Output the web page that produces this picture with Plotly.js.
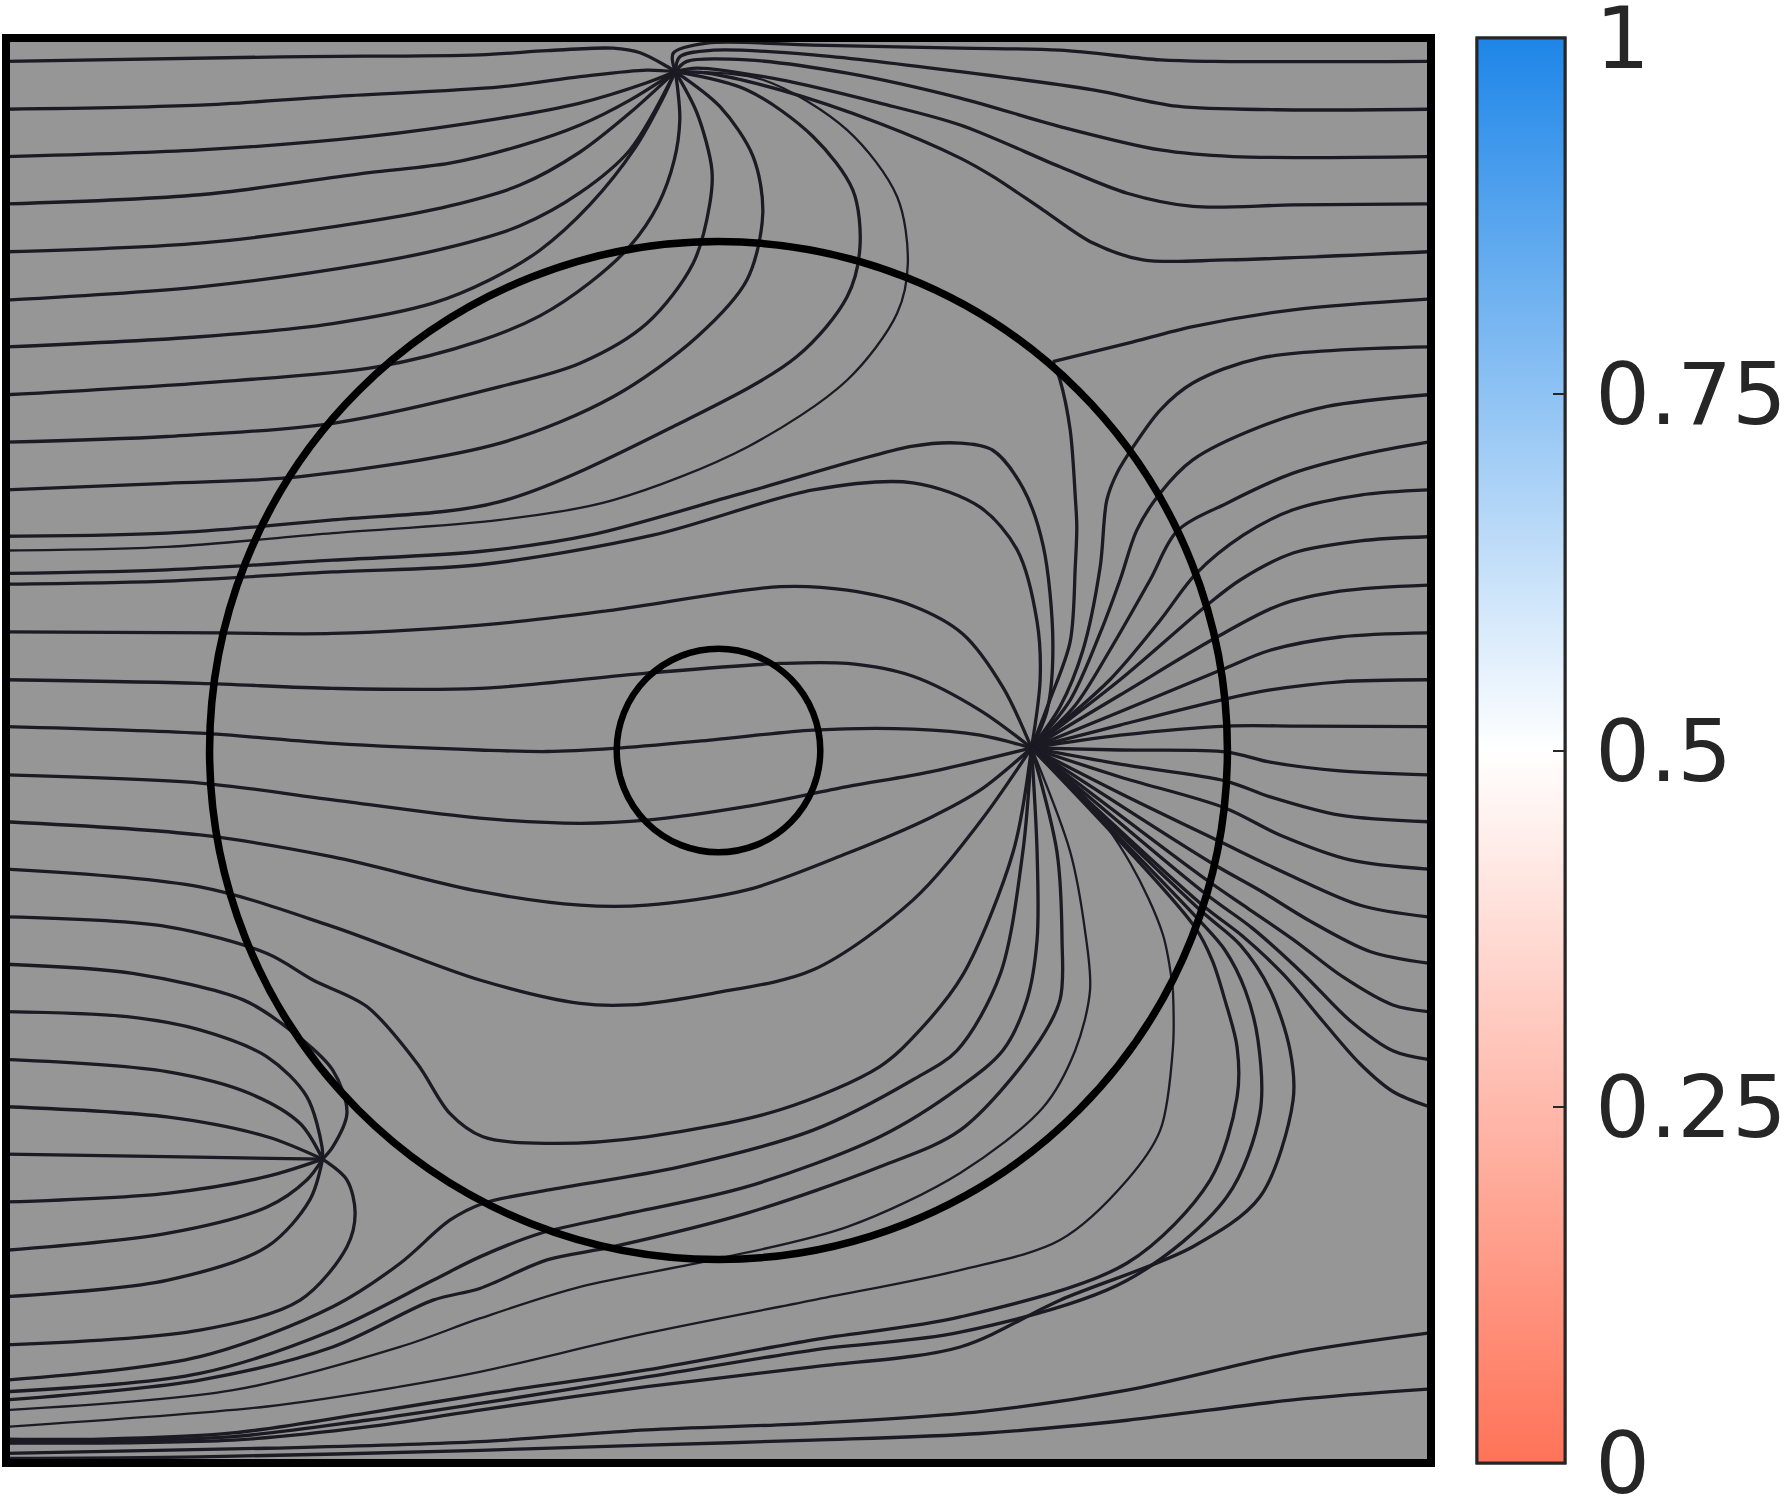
<!DOCTYPE html>
<html>
<head>
<meta charset="utf-8">
<script src="https://cdn.plot.ly/plotly-3.0.1.min.js"></script>
<style>html,body{margin:0;padding:0;background:#fff;}#chart{width:1788px;height:1500px;}</style>
</head>
<body>
<div id="chart"></div>
<script>
// ---------- DATA (domain units: big circle radius = 1) ----------
// streamlines arriving at the upper node from the left edge
const topNodeInX = [
 [-1.400,-0.856,-0.469,-0.337,-0.207,-0.154,-0.101,-0.085],
 [-1.400,-1.019,-0.758,-0.429,-0.272,-0.141,-0.085],
 [-1.400,-1.019,-0.691,-0.429,-0.272,-0.141,-0.085],
 [-1.400,-1.019,-0.691,-0.528,-0.390,-0.272,-0.174,-0.085],
 [-1.400,-1.019,-0.691,-0.528,-0.390,-0.272,-0.174,-0.085],
 [-1.400,-1.019,-0.691,-0.528,-0.390,-0.272,-0.174,-0.085],
 [-1.400,-1.019,-0.758,-0.561,-0.449,-0.351,-0.253,-0.164,-0.111,-0.085],
 [-1.400,-1.019,-0.671,-0.469,-0.351,-0.253,-0.174,-0.119,-0.087,-0.076,-0.080,-0.085],
 [-1.400,-1.084,-0.758,-0.429,-0.272,-0.141,-0.050,-0.017,-0.013,-0.042,-0.085],
 [-1.400,-1.084,-0.822,-0.429,-0.207,-0.042,0.056,0.087,0.068,0.003,-0.085],
 [-1.400,-1.084,-0.758,-0.429,-0.076,0.154,0.253,0.278,0.264,0.186,0.056,-0.085],
 [-1.400,-1.084,-0.758,-0.429,-0.207,0.056,0.253,0.351,0.372,0.351,0.253,0.087,-0.085]
];
const topNodeInY = [
 [1.354,1.363,1.367,1.375,1.380,1.371,1.344,1.334],
 [1.260,1.268,1.285,1.304,1.324,1.337,1.334],
 [1.167,1.180,1.206,1.242,1.272,1.312,1.334],
 [1.074,1.092,1.135,1.154,1.188,1.229,1.278,1.334],
 [0.980,0.997,1.039,1.070,1.111,1.176,1.253,1.334],
 [0.885,0.911,0.956,0.989,1.031,1.096,1.180,1.334],
 [0.793,0.813,0.839,0.879,0.925,0.983,1.072,1.184,1.278,1.334],
 [0.699,0.722,0.754,0.805,0.854,0.919,0.991,1.072,1.160,1.239,1.298,1.334],
 [0.606,0.617,0.643,0.715,0.761,0.839,0.957,1.075,1.141,1.252,1.334],
 [0.512,0.525,0.538,0.604,0.695,0.813,0.925,1.056,1.167,1.265,1.334],
 [0.421,0.427,0.453,0.489,0.643,0.774,0.892,0.990,1.101,1.206,1.298,1.334],
 [0.393,0.400,0.427,0.453,0.492,0.596,0.728,0.859,0.957,1.088,1.219,1.318,1.334]
];
// streamlines leaving the upper node towards the right edge
const topNodeOutX = [
 [-0.085,-0.089,-0.023,0.186,0.475,0.671,0.868,0.972,1.394],
 [-0.085,-0.076,-0.011,0.186,0.475,0.736,0.901,1.097,1.394],
 [-0.085,-0.062,0.056,0.253,0.475,0.671,0.868,1.011,1.394],
 [-0.085,-0.042,0.121,0.317,0.475,0.671,0.803,0.932,1.129,1.394],
 [-0.085,-0.023,0.121,0.317,0.475,0.539,0.638,0.736,0.834,0.999,1.394]
];
const topNodeOutY = [
 [1.334,1.370,1.390,1.386,1.380,1.376,1.357,1.354,1.354],
 [1.334,1.363,1.376,1.367,1.334,1.298,1.266,1.259,1.260],
 [1.334,1.354,1.357,1.331,1.282,1.226,1.180,1.167,1.167],
 [1.334,1.341,1.318,1.272,1.229,1.147,1.095,1.069,1.072,1.074],
 [1.334,1.331,1.298,1.232,1.164,1.128,1.062,0.997,0.964,0.964,0.980]
];
// line with a corner on the big circle (upper right)
const rimLineX = [
 [1.394,1.129,0.932,0.803,0.657],
 [0.657,0.671,0.691,0.701,0.704,0.701,0.691,0.651,0.615]
];
const rimLineY = [
 [0.887,0.866,0.833,0.800,0.764],
 [0.764,0.728,0.630,0.499,0.440,0.361,0.214,0.099,0.005]
];
// streamlines from the left edge into the sink
const leftToSinkX = [
 [-1.400,-1.084,-0.758,-0.469,-0.253,0.056,0.382,0.475,0.539,0.598,0.638,0.657,0.646,0.615],
 [-1.400,-1.084,-0.758,-0.469,-0.129,0.186,0.382,0.514,0.587,0.626,0.632,0.615],
 [-1.400,-0.980,-0.758,-0.429,-0.207,0.121,0.253,0.382,0.480,0.559,0.615],
 [-1.400,-1.019,-0.758,-0.469,-0.141,0.121,0.253,0.382,0.514,0.615],
 [-1.400,-1.019,-0.758,-0.469,-0.337,-0.207,-0.011,0.186,0.382,0.514,0.615],
 [-1.400,-1.019,-0.758,-0.469,-0.272,-0.141,0.056,0.253,0.416,0.615],
 [-1.400,-1.019,-0.758,-0.469,-0.272,-0.141,0.056,0.253,0.416,0.514,0.615],
 [-1.400,-1.019,-0.758,-0.469,-0.272,-0.174,-0.011,0.186,0.382,0.514,0.615],
 [-1.400,-1.084,-0.887,-0.797,-0.691,-0.592,-0.528,-0.463,-0.337,-0.141,0.121,0.317,0.396,0.480,0.579,0.615],
 [-1.400,-1.019,-0.758,-0.626,-0.528,-0.463,-0.337,-0.076,0.186,0.382,0.469,0.553,0.598,0.615],
 [-1.400,-1.019,-0.758,-0.561,-0.469,-0.351,-0.207,0.056,0.317,0.475,0.559,0.606,0.626,0.626,0.615],
 [-1.400,-1.019,-0.758,-0.561,-0.469,-0.337,-0.207,0.056,0.317,0.475,0.618,0.671,0.675,0.665,0.615],
 [-1.400,-0.954,-0.626,-0.469,-0.272,-0.011,0.253,0.475,0.638,0.701,0.730,0.720,0.691,0.615]
];
const leftToSinkY = [
 [0.348,0.355,0.374,0.391,0.423,0.508,0.598,0.604,0.590,0.516,0.402,0.213,0.080,0.005],
 [0.327,0.333,0.351,0.365,0.423,0.512,0.526,0.478,0.394,0.253,0.139,0.005],
 [0.233,0.231,0.230,0.250,0.276,0.322,0.315,0.284,0.229,0.124,0.005],
 [0.139,0.132,0.122,0.122,0.152,0.171,0.171,0.146,0.079,0.005],
 [0.047,0.034,0.014,0.001,-0.002,0.004,0.021,0.040,0.042,0.030,0.005],
 [-0.048,-0.064,-0.097,-0.133,-0.143,-0.137,-0.110,-0.071,-0.042,0.005],
 [-0.140,-0.166,-0.209,-0.277,-0.304,-0.304,-0.274,-0.202,-0.132,-0.078,0.005],
 [-0.233,-0.268,-0.346,-0.451,-0.497,-0.500,-0.477,-0.431,-0.294,-0.140,0.005],
 [-0.327,-0.346,-0.399,-0.451,-0.503,-0.615,-0.713,-0.759,-0.772,-0.759,-0.706,-0.621,-0.549,-0.441,-0.199,0.005],
 [-1.237,-1.191,-1.093,-1.008,-0.923,-0.890,-0.864,-0.818,-0.746,-0.647,-0.589,-0.441,-0.199,0.005],
 [-1.260,-1.224,-1.139,-1.041,-0.995,-0.949,-0.916,-0.857,-0.759,-0.661,-0.589,-0.490,-0.372,-0.199,0.005],
 [-1.276,-1.237,-1.172,-1.080,-1.057,-1.001,-0.975,-0.909,-0.818,-0.746,-0.589,-0.490,-0.372,-0.199,0.005],
 [-1.296,-1.257,-1.172,-1.116,-1.054,-1.001,-0.936,-0.830,-0.701,-0.589,-0.471,-0.353,-0.199,0.005]
];
// streamlines around the lower-left node
const lowerNodeX = [
 [-1.400,-1.151,-0.934,-0.842,-0.758,-0.730,-0.758,-0.778],
 [-1.400,-1.162,-1.019,-0.887,-0.809,-0.779,-0.778],
 [-1.400,-1.084,-0.921,-0.822,-0.778],
 [-1.400,-1.084,-0.887,-0.778],
 [-1.400,-1.084,-0.778],
 [-1.400,-1.084,-0.887,-0.778],
 [-1.400,-1.084,-0.887,-0.809,-0.778],
 [-1.400,-1.084,-0.887,-0.803,-0.778],
 [-0.778,-0.730,-0.714,-0.730,-0.822,-1.019,-1.400]
];
const lowerNodeY = [
 [-0.420,-0.438,-0.490,-0.549,-0.628,-0.712,-0.779,-0.803],
 [-0.513,-0.523,-0.549,-0.602,-0.680,-0.779,-0.803],
 [-0.607,-0.631,-0.674,-0.733,-0.803],
 [-0.700,-0.720,-0.759,-0.803],
 [-0.793,-0.798,-0.803],
 [-0.887,-0.870,-0.837,-0.803],
 [-0.982,-0.949,-0.897,-0.844,-0.803],
 [-1.073,-1.041,-0.975,-0.883,-0.803],
 [-0.803,-0.844,-0.909,-0.975,-1.080,-1.139,-1.168]
];
// streamlines from the right edge into the sink
const rightToSinkX = [
 [1.394,1.064,0.932,0.868,0.815,0.783,0.763,0.750,0.716,0.671,0.615],
 [1.394,1.196,1.064,0.932,0.868,0.822,0.789,0.750,0.691,0.615],
 [1.394,1.261,1.129,0.999,0.901,0.848,0.769,0.701,0.615],
 [1.394,1.261,1.129,1.031,0.938,0.868,0.769,0.615],
 [1.394,1.261,1.129,1.025,0.958,0.789,0.615],
 [1.394,1.221,1.103,0.976,0.789,0.615],
 [1.394,1.221,1.084,0.987,0.789,0.615],
 [1.394,1.221,1.084,0.995,0.789,0.615],
 [1.394,1.143,0.999,0.789,0.615],
 [1.394,1.221,1.084,0.999,0.789,0.615],
 [1.394,1.221,1.084,0.997,0.789,0.615],
 [1.394,1.241,1.103,0.993,0.789,0.615],
 [1.394,1.261,1.123,0.983,0.789,0.615],
 [1.394,1.280,1.162,1.064,0.972,0.615],
 [1.394,1.325,1.227,1.130,1.040,0.960,0.615],
 [1.394,1.325,1.240,1.150,1.050,0.955,0.615],
 [1.394,1.325,1.260,1.190,1.110,1.030,0.950,0.615]
];
const rightToSinkY = [
 [0.793,0.771,0.722,0.669,0.597,0.545,0.492,0.361,0.197,0.086,0.005],
 [0.699,0.676,0.636,0.571,0.506,0.433,0.335,0.231,0.099,0.005],
 [0.606,0.581,0.545,0.486,0.431,0.335,0.197,0.089,0.005],
 [0.512,0.502,0.473,0.423,0.347,0.256,0.139,0.005],
 [0.420,0.412,0.388,0.335,0.284,0.139,0.005],
 [0.325,0.313,0.286,0.221,0.109,0.005],
 [0.231,0.223,0.197,0.158,0.076,0.005],
 [0.139,0.135,0.119,0.101,0.050,0.005],
 [0.047,0.048,0.048,0.030,0.005],
 [-0.048,-0.040,-0.023,-0.003,0.001,0.005],
 [-0.140,-0.127,-0.091,-0.060,-0.027,0.005],
 [-0.233,-0.215,-0.166,-0.112,-0.052,0.005],
 [-0.327,-0.304,-0.245,-0.178,-0.084,0.005],
 [-0.418,-0.395,-0.335,-0.275,-0.223,0.005],
 [-0.513,-0.500,-0.445,-0.372,-0.310,-0.255,0.005],
 [-0.607,-0.590,-0.530,-0.440,-0.350,-0.280,0.005],
 [-0.699,-0.670,-0.615,-0.535,-0.440,-0.365,-0.303,0.005]
];
// streamlines from the sink looping down and back to the left edge
const bottomLoopX = [
 [0.893,0.893,0.868,0.803,0.671,0.475,0.186,-0.141,-0.469,-0.626,-0.887,-1.400],
 [0.615,0.710,0.809,0.873,0.893],
 [0.615,0.936,0.970,0.995,1.019,1.019,0.966,0.803,0.475,0.186,-0.141,-0.469,-0.691,-0.954,-1.215,-1.400],
 [0.615,0.942,0.995,1.035,1.060,1.064,0.999,0.803,0.475,0.186,-0.141,-0.469,-0.691,-0.954,-1.400],
 [0.615,0.948,1.025,1.084,1.123,1.129,1.064,0.932,0.671,0.475,0.186,-0.141,-0.469,-0.691,-0.954,-1.400]
];
const bottomLoopY = [
 [-0.471,-0.583,-0.746,-0.844,-0.962,-1.021,-1.080,-1.145,-1.221,-1.250,-1.289,-1.329],
 [0.005,-0.080,-0.221,-0.361,-0.471],
 [0.005,-0.347,-0.412,-0.490,-0.583,-0.681,-0.844,-1.007,-1.113,-1.158,-1.217,-1.266,-1.302,-1.341,-1.353,-1.353],
 [0.005,-0.331,-0.392,-0.471,-0.569,-0.712,-0.877,-1.041,-1.143,-1.178,-1.231,-1.283,-1.316,-1.348,-1.358],
 [0.005,-0.315,-0.382,-0.471,-0.589,-0.687,-0.877,-0.975,-1.080,-1.172,-1.211,-1.250,-1.296,-1.329,-1.355,-1.361]
];
// streamlines crossing the bottom from left edge to right edge
const bottomPassX = [
 [-1.400,-0.887,-0.469,-0.141,0.186,0.514,0.803,1.129,1.394],
 [-1.400,-1.019,-0.469,-0.141,0.186,0.514,0.803,1.129,1.394]
];
const bottomPassY = [
 [-1.381,-1.371,-1.358,-1.335,-1.322,-1.299,-1.257,-1.184,-1.145],
 [-1.391,-1.388,-1.375,-1.365,-1.355,-1.342,-1.316,-1.276,-1.255]
];
// circles
const circleCX = [0, 0];
const circleCY = [0, 0];
const circleR = [1.0, 0.2];
// colour bar
const cbRange = [0, 1];
const cbTickVals = [0, 0.25, 0.5, 0.75, 1];
const cbTickText = ['0', '0.25', '0.5', '0.75', '1'];

// ---------- DRAWING ----------
const LINE_COLOR = '#1c1a22';
const traces = [];
function addGroup(xs, ys, thinIdx) {
  for (let i = 0; i < xs.length; i++) {
    const thin = thinIdx.indexOf(i) >= 0;
    traces.push({
      type: 'scatter', mode: 'lines', x: xs[i], y: ys[i],
      line: {color: LINE_COLOR, width: thin ? 2.3 : 3.3, shape: 'spline', smoothing: 0.9},
      hoverinfo: 'skip', showlegend: false
    });
  }
}
addGroup(topNodeInX, topNodeInY, [11]);
addGroup(topNodeOutX, topNodeOutY, []);
addGroup(rimLineX, rimLineY, []);
addGroup(leftToSinkX, leftToSinkY, [12]);
addGroup(lowerNodeX, lowerNodeY, []);
addGroup(rightToSinkX, rightToSinkY, []);
addGroup(bottomLoopX, bottomLoopY, [0, 1]);
addGroup(bottomPassX, bottomPassY, []);

const CB_SCALE = [[0, '#ff7358'], [0.5, '#ffffff'], [1, '#1e86e8']];
const cbBase = {
  thickness: 88, thicknessmode: 'pixels',
  len: 1, lenmode: 'fraction', y: 0.5, yanchor: 'middle',
  x: 1.0323, xanchor: 'left', xpad: 0, ypad: 0,
  outlinewidth: 3, outlinecolor: '#262626', borderwidth: 0,
  tickmode: 'array', tickvals: cbTickVals, ticktext: cbTickText,
  tickfont: {family: 'DejaVu Sans', size: 86, color: '#262626'},
  ticklabeloverflow: 'allow'
};
// colour bar carrying the labels (transparent outside ticks give the label gap)
traces.push({
  type: 'heatmap', z: [cbRange], opacity: 0, zmin: cbRange[0], zmax: cbRange[1],
  hoverinfo: 'skip', showscale: true, colorscale: CB_SCALE,
  colorbar: Object.assign({}, cbBase, {ticks: 'outside', ticklen: 12, tickwidth: 1,
    tickcolor: 'rgba(0,0,0,0)', showticklabels: true})
});
// same colour bar drawn again with the short inside ticks
traces.push({
  type: 'heatmap', z: [cbRange], opacity: 0, zmin: cbRange[0], zmax: cbRange[1],
  hoverinfo: 'skip', showscale: true, colorscale: CB_SCALE,
  colorbar: Object.assign({}, cbBase, {ticks: 'inside', ticklen: 13, tickwidth: 2,
    tickcolor: '#262626', showticklabels: false})
});

const shapes = [];
for (let i = 0; i < circleR.length; i++) {
  shapes.push({
    type: 'circle', xref: 'x', yref: 'y',
    x0: circleCX[i] - circleR[i], x1: circleCX[i] + circleR[i],
    y0: circleCY[i] - circleR[i], y1: circleCY[i] + circleR[i],
    line: {color: '#000000', width: i === 0 ? 7.5 : 6.5}
  });
}
shapes.push({type: 'rect', xref: 'paper', yref: 'paper', x0: 0, x1: 1, y0: 0, y1: 1,
  line: {color: '#000000', width: 8}});

const axisCommon = {range: [-1.4, 1.4], showgrid: false, zeroline: false, showticklabels: false,
  ticks: '', showline: false, fixedrange: true};
const layout = {
  width: 1788, height: 1500,
  margin: {l: 6, r: 357, t: 38, b: 37, pad: 0, autoexpand: false},
  paper_bgcolor: '#ffffff', plot_bgcolor: '#969696',
  xaxis: Object.assign({}, axisCommon),
  yaxis: Object.assign({}, axisCommon),
  shapes: shapes, showlegend: false,
  font: {family: 'DejaVu Sans'}
};
Plotly.newPlot('chart', traces, layout, {staticPlot: true, displayModeBar: false});
</script>
</body>
</html>
